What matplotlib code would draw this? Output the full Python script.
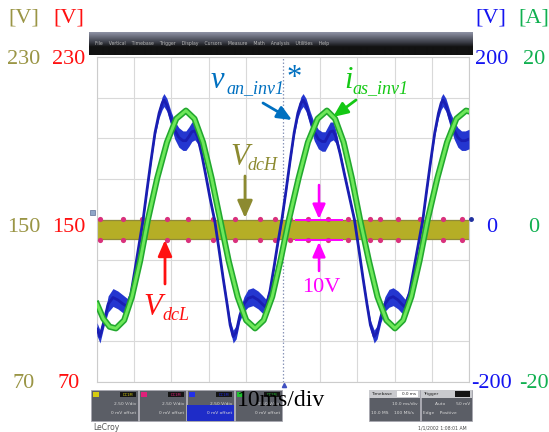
import numpy as np
import matplotlib
matplotlib.use("Agg")
import matplotlib.pyplot as plt
from matplotlib.patches import Rectangle

# ---------------- data ----------------
# time in ms (10 ms/div, 10 div)
t_blue = [0.0, 0.8, 1.9, 3.0, 4.3, 5.6, 7.0, 8.1, 9.1, 10.2, 11.3, 12.4,
          13.4, 14.5, 15.6, 16.7, 17.5, 18.0, 18.8, 19.9, 20.9, 22.0, 23.1, 23.9, 24.7, 25.5, 26.3, 27.1, 28.2, 29.3, 30.4, 31.7,
          32.8, 33.9, 35.0, 35.8, 36.6, 37.4, 38.4, 39.5, 40.6, 41.9, 43.3, 44.4, 45.4, 46.5, 47.6, 48.6, 49.7,
          50.8, 51.9, 53.0, 54.0, 54.8, 55.4, 56.2, 57.3, 58.4, 59.5, 60.5, 61.3, 62.0, 62.7, 63.5, 64.2, 65.4, 66.6, 67.9, 69.2,
          70.4, 71.5, 72.6, 73.5, 74.5, 75.3, 76.3, 77.4, 78.5, 79.6, 80.9, 81.9, 82.8, 84.0, 85.2, 86.4, 87.6,
          88.6, 89.7, 90.8, 91.8, 92.5, 93.0, 93.8, 94.9, 96.0, 97.0, 98.0, 99.0, 100.0]
# v_an_inv1 [V] (right blue scale, -200..200)
v_blue = [-135, -144, -125, -104, -96, -99, -104, -107, -92, -62, -31, 0,
          35, 72, 107, 131, 143, 147, 141, 124, 110, 101, 97, 97, 102, 108, 109, 101, 79, 53, 26, -3,
          -37, -72, -105, -130, -144, -139, -118, -104, -97, -95, -99, -104, -108, -88, -58, -29, 0,
          35, 72, 107, 131, 143, 147, 141, 124, 108, 99, 96, 96, 102, 108, 109, 102, 80, 54, 27, 0,
          -37, -72, -105, -130, -144, -139, -120, -104, -97, -95, -99, -104, -108, -90, -60, -30, 0,
          35, 72, 107, 131, 143, 147, 141, 124, 110, 101, 97, 97, 99]
# half-width of the blue trace's persistence blur [V]
v_blue_spread = [8, 8, 6, 10, 11, 11, 11, 10, 5, 3, 3, 3,
                 3, 3, 4, 6, 8, 8, 8, 9, 11, 12, 12, 12, 12, 12, 11, 8, 4, 3, 3, 3,
                 3, 3, 4, 6, 8, 8, 7, 9, 11, 11, 11, 11, 10, 5, 3, 3, 3,
                 3, 3, 4, 6, 8, 8, 8, 9, 11, 12, 12, 12, 12, 12, 11, 8, 4, 3, 3, 3,
                 3, 3, 4, 6, 8, 8, 7, 9, 11, 11, 11, 11, 10, 5, 3, 3, 3,
                 3, 3, 4, 6, 8, 8, 8, 9, 11, 12, 12, 12, 12]

t_green = [0.0, 1.7, 3.4, 5.1, 7.3, 9.4, 11.6, 13.7, 16.2, 18.8, 21.3, 23.9, 26.2, 28.5, 30.8, 33.1,
           35.4, 37.8, 40.1, 42.5, 44.8, 47.1, 49.3, 51.6, 54.2, 56.7, 59.3, 61.8, 64.0, 66.3, 68.5, 70.7,
           73.1, 75.4, 77.8, 80.1, 82.3, 84.5, 86.7, 88.9, 91.5, 94.1, 96.6, 99.2, 100.0]
# i_as_inv1 [A] (right green scale, -20..20)
i_green = [-10.4, -12.2, -13.2, -13.4, -12.4, -9.5, -5.1, 0, 5.1, 9.5, 12.4, 13.4, 12.4, 9.5, 5.1, 0,
           -5.1, -9.5, -12.4, -13.4, -12.4, -9.5, -5.1, 0, 5.1, 9.5, 12.4, 13.4, 12.4, 9.5, 5.1, 0,
           -5.1, -9.5, -12.4, -13.4, -12.4, -9.5, -5.1, 0, 5.1, 9.5, 12.4, 13.4, 13.3]

# DC link voltages [V] (left scale 70..230)
dc_t = [0, 100]
vdcH_low = [140.6, 140.6]
vdcH_high = [149.6, 149.6]
vdcL_spike_t = [0.8, 7.0, 12.1, 18.8, 24.5, 31.2, 37.1, 43.8, 47.8, 51.9, 56.7, 62.1,
                67.4, 73.4, 76.1, 80.9, 86.8, 93.0, 98.1]
vdcL_top = 150.3
vdcL_bot = 139.7
meas_levels = [150, 140]          # 10 V ripple markers
meas_t = [53.2, 66.1]

left_labels = ["230", "150", "70"]
right_blue_labels = ["200", "0", "-200"]
right_green_labels = ["20", "0", "-20"]

# ---------------- figure ----------------
W, H = 549, 432
fig = plt.figure(figsize=(5.49, 4.32), dpi=100)
fig.patch.set_facecolor("white")

L, R, T, B = 97, 469, 57, 382
ax = fig.add_axes([L / W, 1 - B / H, (R - L) / W, (B - T) / H])
ax.set_xlim(0, 100)
ax.set_ylim(70, 230)
ax.set_xticks(np.arange(0, 101, 10))
ax.set_yticks(np.arange(70, 231, 20))
ax.grid(True, color="#D9D9D9", lw=0.8)
ax.get_xgridlines()[5].set_visible(False)
ax.axvline(50, color="#8A96B8", lw=0.9, ls=(0, (1.2, 1.6)))
ax.tick_params(length=0, labelleft=False, labelbottom=False)
for s in ax.spines.values():
    s.set_color("#CCCCCC")
    s.set_linewidth(0.8)
ax.set_axisbelow(True)

# DC bands
ax.fill_between(dc_t, vdcH_low, vdcH_high, color="#B5AE26", lw=0, zorder=2)
ax.plot(dc_t, vdcH_low, color="#8F8A3A", lw=0.9, zorder=2)
ax.plot(dc_t, vdcH_high, color="#8F8A3A", lw=0.9, zorder=2)
ax.scatter(vdcL_spike_t, [vdcL_top] * len(vdcL_spike_t), s=14, color="#D9317C", lw=0, zorder=3)
ax.scatter(vdcL_spike_t, [vdcL_bot] * len(vdcL_spike_t), s=14, color="#D9317C", lw=0, zorder=3)
ax.hlines(meas_levels, meas_t[0], meas_t[1], color="#FF00FF", lw=1.4, zorder=6)

axb = ax.twinx()
axb.set_ylim(-200, 200)
axb.set_axis_off()
vb = np.array(v_blue, dtype=float)
sb = np.array(v_blue_spread, dtype=float)
axb.fill_between(t_blue, vb - sb, vb + sb, color="#2436D0", lw=0)
axb.plot(t_blue, v_blue, color="#1A1EB2", lw=2.0, solid_joinstyle="round")

axg = ax.twinx()
axg.set_ylim(-20, 20)
axg.set_axis_off()
axg.plot(t_green, i_green, color="#22A82E", lw=4.4, solid_joinstyle="round")
axg.plot(t_green, i_green, color="#6EE85A", lw=2.1, solid_joinstyle="round")

# ---------------- overlay (pixel coords) ----------------
ov = fig.add_axes([0, 0, 1, 1], zorder=10)
ov.patch.set_alpha(0)
ov.axis("off")

# toolbar gradient
rows = 23
top_c = np.array([0x8C, 0x90, 0xA2]) / 255
mid_c = np.array([0x3A, 0x3C, 0x46]) / 255
bot_c = np.array([0x12, 0x12, 0x12]) / 255
grad = np.zeros((rows, 1, 3))
for k in range(rows):
    f = k / (rows - 1)
    if f < 0.45:
        g = top_c + (mid_c - top_c) * (f / 0.45)
    else:
        g = mid_c + (bot_c - mid_c) * min(1, (f - 0.45) / 0.2)
    grad[k, 0] = g
ov.imshow(grad, extent=(89, 473, 55, 32), aspect="auto", interpolation="bilinear")
ov.text(95, 44, "File    Vertical    Timebase    Trigger    Display    Cursors    Measure    Math    Analysis    Utilities    Help",
        fontsize=3.3, color="#B8B8B8", va="center", ha="left", family="DejaVu Sans")

# small markers on grid
ov.add_patch(Rectangle((90, 210), 5, 5, facecolor="#8FA6C8", edgecolor="#5C6F96", lw=0.5))
ov.plot([471], [219], marker="o", ms=2.5, color="#2030A0")
ov.plot([284], [385], marker="^", ms=3, color="#4050C0")

# channel descriptor boxes
box_cols = ["#D6CC10", "#E0207A", "#2230E8", "#20C030"]
box_x = [91, 139, 187, 235]
for bx, bc in zip(box_x, box_cols):
    ov.add_patch(Rectangle((bx, 390), 47, 31, facecolor="#5B5E66", edgecolor="#A8A8B0", lw=0.6))
    if bc == "#2230E8":
        ov.add_patch(Rectangle((bx, 405), 47, 16, facecolor="#1E2CC8", edgecolor="none"))
    ov.add_patch(Rectangle((bx + 2, 392), 6, 5, facecolor=bc, edgecolor="none"))
    ov.add_patch(Rectangle((bx + 29, 392), 16, 5, facecolor="#141414", edgecolor="none"))
    ov.text(bx + 37, 394.5, "DC1M", fontsize=2.6, color=bc, ha="center", va="center", family="DejaVu Sans")
    ov.text(bx + 45, 404, "2.50 V/div", fontsize=3.2, color="#D8D8D8", ha="right", va="center", family="DejaVu Sans")
    ov.text(bx + 45, 413, "0 mV offset", fontsize=3.2, color="#D8D8D8", ha="right", va="center", family="DejaVu Sans")

for bx, head, l1, l2 in [(369, "Timebase", "10.0 ms/div", "10.0 MS    100 MS/s"),
                         (421, "Trigger", "Auto        50 mV", "Edge    Positive")]:
    ov.add_patch(Rectangle((bx, 390), 51, 31, facecolor="#5B5E66", edgecolor="#A8A8B0", lw=0.6))
    ov.add_patch(Rectangle((bx, 390), 51, 8, facecolor="#C9CACE", edgecolor="none"))
    ov.text(bx + 2, 394, head, fontsize=3.2, color="#202020", ha="left", va="center", family="DejaVu Sans")
    ov.text(bx + 49, 404, l1, fontsize=3.2, color="#D8D8D8", ha="right", va="center", family="DejaVu Sans")
    ov.text(bx + 2, 413, l2, fontsize=3.2, color="#D8D8D8", ha="left", va="center", family="DejaVu Sans")
ov.add_patch(Rectangle((397, 391), 21, 6, facecolor="white", edgecolor="none"))
ov.text(416, 394, "0.0 ms", fontsize=3.0, color="#202020", ha="right", va="center", family="DejaVu Sans")
ov.add_patch(Rectangle((455, 391), 15, 6, facecolor="#141414", edgecolor="none"))

ov.text(93, 428, "LeCroy", fontsize=5.5, color="#555555", ha="left", va="center", family="DejaVu Sans")
ov.text(467, 428, "1/1/2002 1:08:01 AM", fontsize=3.3, color="#444444", ha="right", va="center", family="DejaVu Sans")

# axis labels
serif = "Liberation Serif"
c_olive, c_red, c_blue, c_green = "#9A9545", "#FF1010", "#1414F0", "#10B050"
ys = [59, 228, 384]
ov.text(24, 18, "[V]", color=c_olive, fontsize=16, ha="center", va="center", family=serif)
ov.text(69, 18, "[V]", color=c_red, fontsize=16, ha="center", va="center", family=serif)
ov.text(491, 18, "[V]", color=c_blue, fontsize=16, ha="center", va="center", family=serif)
ov.text(534, 18, "[A]", color=c_green, fontsize=16, ha="center", va="center", family=serif)
for y, lab, bl, gl in zip(ys, left_labels, right_blue_labels, right_green_labels):
    ov.text(24, y, lab, color=c_olive, fontsize=16, ha="center", va="center", family=serif)
    ov.text(69, y, lab, color=c_red, fontsize=16, ha="center", va="center", family=serif)
    ov.text(492, y, bl, color=c_blue, fontsize=16, ha="center", va="center", family=serif)
    ov.text(534, y, gl, color=c_green, fontsize=16, ha="center", va="center", family=serif)

ov.text(281, 401, "10ms/div", color="black", fontsize=17, ha="center", va="center", family=serif)

# signal annotations
def label(x, y, main, sub, color, xs, ys_, msize=22, ssize=13):
    ov.text(x, y, main, color=color, fontsize=msize, style="italic", family=serif, va="baseline", ha="left")
    ov.text(xs, ys_, sub, color=color, fontsize=ssize, style="italic", family=serif, va="baseline", ha="left")

c_van, c_ias, c_dch = "#0070C0", "#14C814", "#8C8A30"
label(211, 88, "v", "an_inv1", c_van, 226, 93)
ov.text(287, 86, "*", color=c_van, fontsize=22, family=serif, va="baseline", ha="left")
label(344, 88, "i", "as_inv1", c_ias, 352, 93)
label(230, 165, "V", "dcH", c_dch, 247, 170)
label(143, 315, "V", "dcL", c_red, 162, 320)
ov.text(321, 287, "10V", color="#FF00FF", fontsize=16, family=serif, ha="center", va="center")

def arrow(tail, tip, color, lw=1.8, hl=0.8, hw=0.35, ms=11):
    ov.annotate("", xy=tip, xytext=tail,
                arrowprops=dict(arrowstyle=f"-|>,head_length={hl},head_width={hw}", color=color, lw=lw,
                                shrinkA=0, shrinkB=0, mutation_scale=ms))

arrow((263, 103), (292, 120), c_van, lw=2.0)
arrow((356, 100), (333, 117), c_ias, lw=2.0)
arrow((245, 176), (245, 218), c_dch, lw=2.0, ms=13)
arrow((165, 284), (165, 240), c_red, lw=2.0, ms=12)
arrow((319, 185), (319, 219), "#FF00FF", lw=1.8)
arrow((319, 271), (319, 242), "#FF00FF", lw=1.8)

ov.set_xlim(0, W)
ov.set_ylim(H, 0)

fig.savefig("out.png", dpi=100)
